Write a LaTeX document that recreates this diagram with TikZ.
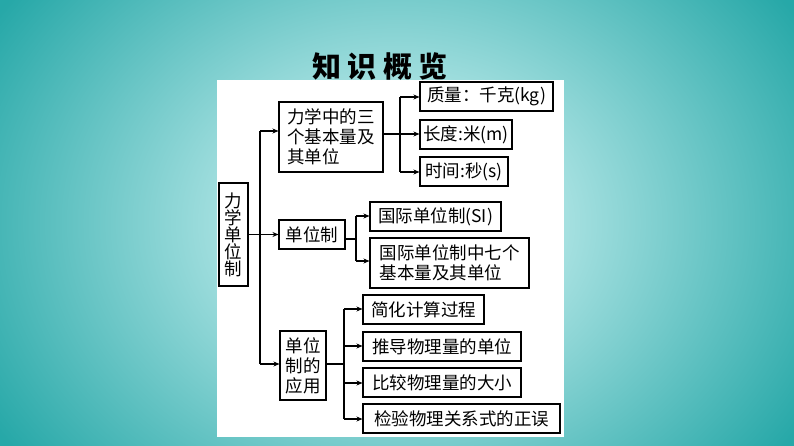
\documentclass[tikz,border=0pt]{standalone}
\usepackage{fontspec}
\setmainfont{Liberation Serif}
\newfontfamily\cjk{Noto Sans CJK SC}
\usetikzlibrary{arrows.meta}
\begin{document}
\begin{tikzpicture}[x=1pt,y=-1pt,
  box/.style={draw,line width=1.1pt,inner sep=0pt,font=\cjk\fontsize{17.5}{20}\selectfont,align=left},
  ln/.style={line width=1.1pt},
  arr/.style={line width=1.1pt,-{Stealth[length=6pt,width=5pt]}}]
\useasboundingbox (0,0) rectangle (794,446);
\shade[inner color=white!92!cyan, outer color=teal!55!cyan!70!gray] (-80,-160) rectangle (874,606);
\fill[white] (217,80) rectangle (564,437);
\node[font=\cjk\bfseries\fontsize{29}{30}\selectfont] (title) at (380,66) {知 识 概 览};
\node[box,minimum width=29,minimum height=103,align=center] (root) at (233.5,234.5) {力\\[-3pt]学\\[-3pt]单\\[-3pt]位\\[-3pt]制};
\node[box,minimum width=104,minimum height=70] (a) at (331,137) {力学中的三\\个基本量及\\其单位};
\node[box,minimum width=133,minimum height=29] (a1) at (486.5,96.5) {质量：千克(kg)};
\node[box,minimum width=92,minimum height=29] (a2) at (466,134.5) {长度:米(m)};
\node[box,minimum width=88,minimum height=29] (a3) at (464,171.5) {时间:秒(s)};
\node[box,minimum width=66,minimum height=29] (b) at (312,234.5) {单位制};
\node[box,minimum width=131,minimum height=29] (b1) at (435.5,216.5) {国际单位制(SI)};
\node[box,minimum width=159,minimum height=50] (b2) at (449.5,263) {国际单位制中七个\\基本量及其单位};
\node[box,minimum width=46,minimum height=69,align=center] (c) at (303,365.5) {单位\\制的\\应用};
\node[box,minimum width=121,minimum height=29] (c1) at (423.5,309.5) {简化计算过程};
\node[box,minimum width=158,minimum height=29] (c2) at (442,346.5) {推导物理量的单位};
\node[box,minimum width=158,minimum height=29] (c3) at (442,382.5) {比较物理量的大小};
\node[box,minimum width=197,minimum height=29] (c4) at (461.5,418.5) {检验物理关系式的正误};
% main trunk
\coordinate (t1) at (260,131);
\coordinate (t2) at (260,364);
\draw[ln] (root.east) -- (root.east -| t1);
\draw[ln] (t1) -- (t2);
\draw[arr] (t1) -- (a.west |- t1);
\draw[arr] (root.east -| t1) -- (b.west);
\draw[arr] (t2) -- (c.west |- t2);
% sub 1
\coordinate (s1) at (400,97);
\coordinate (s1b) at (400,172);
\draw[ln] (a.east |- 0,134) -- (400,134);
\draw[ln] (s1) -- (s1b);
\draw[arr] (s1) -- (a1.west |- s1);
\draw[arr] (400,134) -- (a2.west |- 0,134);
\draw[arr] (s1b) -- (a3.west |- s1b);
% sub 2
\coordinate (s2) at (356,216);
\coordinate (s2b) at (356,261);
\draw[ln] (b.east |- 0,239) -- (356,239);
\draw[ln] (s2) -- (s2b);
\draw[arr] (s2) -- (b1.west |- s2);
\draw[arr] (s2b) -- (b2.west |- s2b);
% sub 3
\coordinate (s3) at (344,309);
\coordinate (s3b) at (344,419);
\draw[ln] (c.east |- 0,364) -- (344,364);
\draw[ln] (s3) -- (s3b);
\draw[arr] (s3) -- (c1.west |- s3);
\draw[arr] (344,346) -- (c2.west |- 0,346);
\draw[arr] (344,383) -- (c3.west |- 0,383);
\draw[arr] (s3b) -- (c4.west |- s3b);
\end{tikzpicture}
\end{document}
